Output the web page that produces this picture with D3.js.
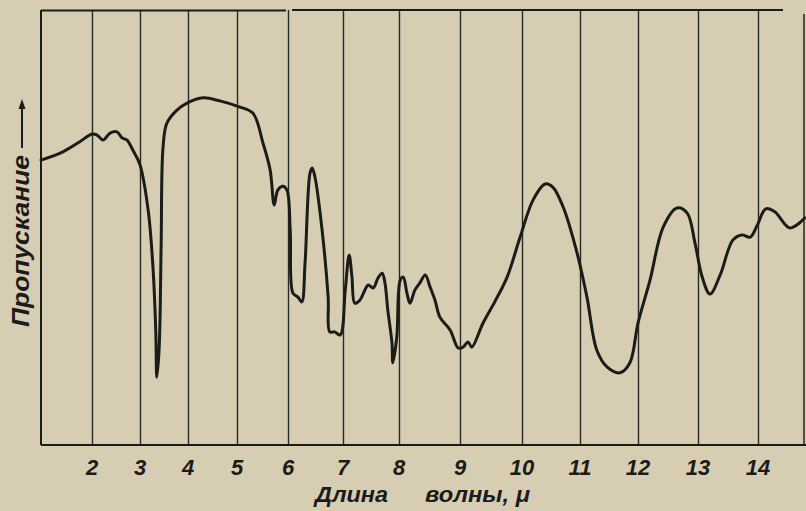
<!DOCTYPE html>
<html><head><meta charset="utf-8">
<script src="https://cdn.jsdelivr.net/npm/d3@7/dist/d3.min.js"></script>
<style>
html,body{margin:0;padding:0;background:#d7cdb3;}
svg{display:block;}
text{font-family:"Liberation Sans","DejaVu Sans",sans-serif;font-style:italic;font-weight:bold;fill:#1d1b18;}
</style></head>
<body>
<svg id="chart" width="806" height="511"></svg>
<script>
// ---- data ----
const wavelength = [1.00,1.43,1.76,2.00,2.10,2.23,2.375,2.52,2.625,2.73,2.85,3.00,3.17,3.27,3.33,3.35,3.40,3.44,3.48,3.56,3.77,3.98,4.31,4.65,5.00,5.31,5.51,5.65,5.73,5.80,5.90,5.98,6.04,6.09,6.18,6.25,6.31,6.40,6.44,6.49,6.62,6.73,6.76,6.85,6.95,7.04,7.11,7.16,7.21,7.30,7.39,7.45,7.54,7.625,7.70,7.75,7.80,7.875,7.89,7.96,8.02,8.07,8.13,8.18,8.26,8.34,8.43,8.51,8.59,8.67,8.84,8.97,9.05,9.13,9.19,9.37,9.56,9.76,9.97,10.19,10.40,10.53,10.71,10.95,11.12,11.29,11.47,11.69,11.86,12.00,12.20,12.42,12.65,12.82,12.95,13.07,13.20,13.37,13.58,13.73,13.87,13.98,14.13,14.28,14.53,14.78];
const transmission = [65.5,67.4,69.7,71.5,71.3,70.1,71.7,72.0,70.6,70.1,67.8,64.4,54.0,40.9,25.7,15.6,22.5,45.5,68.5,74.0,77.0,78.6,79.8,79.1,77.9,76.3,69.4,63.2,55.2,58.6,59.5,58.6,49.4,34.9,34.0,32.9,41.8,62.5,63.7,61.6,49.4,34.0,26.0,26.0,25.3,35.6,43.7,38.6,32.6,33.3,35.6,36.8,36.1,38.4,39.5,37.2,31.0,23.4,18.9,24.8,37.9,38.6,34.9,32.6,35.6,37.2,39.1,36.3,33.3,29.4,26.4,22.3,22.5,23.7,22.5,28.0,32.9,38.6,47.8,56.3,60.0,59.3,54.7,44.1,34.0,21.8,17.9,16.6,18.9,28.0,37.9,50.1,54.5,53.3,46.4,38.6,34.7,39.1,47.1,48.3,47.8,50.3,54.3,53.6,49.9,52.2];
const tickValues = [2,3,4,5,6,7,8,9,10,11,12,13,14];
const tickLabels = ["2","3","4","5","6","7","8","9","10","11","12","13","14"];
const xTitleWords = ["Длина","волны, μ"];
const yTitle = "Пропускание";

// ---- layout (prism spectrometer: non-uniform wavelength scale) ----
const scaleBreaks = [1,2,3,4,5,6,7,8,9,10,11,12,13,14,15];
const scalePixels = [41,92,140,188,237,288,343,399,460,522,580,638,698,758,818];
const plotTop = 10, plotBottom = 445, plotLeft = 41, plotRight = 804;

const svg = d3.select("#chart");
const x = d3.scaleLinear().domain(scaleBreaks).range(scalePixels);
const y = d3.scaleLinear().domain([0,100]).range([plotBottom, plotTop]);

const ink = "#1d1b18";

// grid lines via axis
const gridAxis = d3.axisBottom(x).tickValues(tickValues)
  .tickSize(-(plotBottom - plotTop)).tickFormat("");
const g = svg.append("g").attr("transform", `translate(0,${plotBottom})`).call(gridAxis);
g.select(".domain").remove();
g.selectAll(".tick line").attr("stroke", "#2a2824").attr("stroke-width", 1.4);

// frame
const frame = svg.append("g").attr("stroke", ink).attr("stroke-width", 2).attr("fill","none");
frame.append("line").attr("x1", plotLeft).attr("x2", 286).attr("y1", plotTop+0.5).attr("y2", plotTop+0.5);
frame.append("line").attr("x1", 292).attr("x2", 783).attr("y1", plotTop).attr("y2", plotTop);
frame.append("line").attr("x1", plotLeft).attr("x2", plotLeft).attr("y1", plotTop).attr("y2", plotBottom);
frame.append("line").attr("x1", plotLeft).attr("x2", 806).attr("y1", plotBottom).attr("y2", plotBottom);
frame.append("line").attr("x1", plotRight).attr("x2", plotRight).attr("y1", plotTop+4).attr("y2", plotBottom).attr("stroke-width",1.4);

// tick labels
svg.append("g").selectAll("text").data(tickValues).join("text")
  .attr("x", d => x(d)).attr("y", 475)
  .attr("text-anchor", "middle").attr("font-size", 22)
  .text((d,i) => tickLabels[i]);

// x title
svg.append("text").attr("x", 315).attr("y", 502).attr("font-size", 22)
  .attr("textLength", 73).attr("lengthAdjust","spacingAndGlyphs").text(xTitleWords[0]);
svg.append("text").attr("x", 425).attr("y", 502).attr("font-size", 22)
  .attr("textLength", 105).attr("lengthAdjust","spacingAndGlyphs").text(xTitleWords[1]);

// y title
svg.append("text").attr("transform", "translate(29,327) rotate(-90)")
  .attr("font-size", 24).attr("textLength", 172).attr("lengthAdjust","spacingAndGlyphs").text(yTitle);
// arrow
svg.append("line").attr("x1", 22).attr("x2", 22).attr("y1", 148).attr("y2", 104)
  .attr("stroke", ink).attr("stroke-width", 2);
svg.append("path").attr("d", "M22,99 L18.5,109 L25.5,109 Z").attr("fill", ink);

// spectrum
const pts = wavelength.map((w,i) => [w, transmission[i]]);
const line = d3.line().x(d => x(d[0])).y(d => y(d[1])).curve(d3.curveCatmullRom.alpha(0.5));
svg.append("path").datum(pts).attr("d", line)
  .attr("fill","none").attr("stroke", ink).attr("stroke-width", 3)
  .attr("stroke-linejoin","round").attr("stroke-linecap","round");
</script>
</body></html>
